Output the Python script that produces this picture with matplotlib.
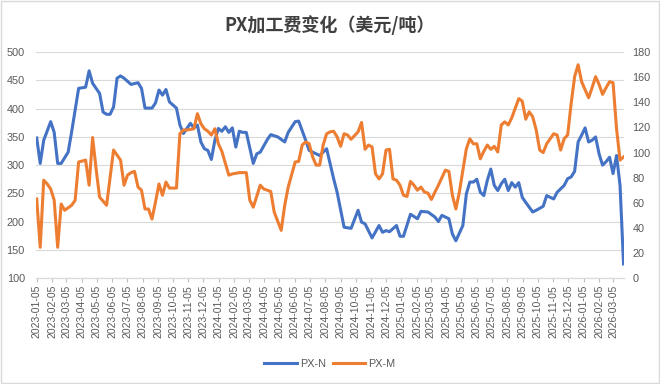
import pandas as pd
import matplotlib
matplotlib.use("Agg")
from matplotlib import pyplot as plt
import matplotlib.dates as mdates
from matplotlib.patches import Rectangle

# weeks counted from 2023-01-05
start = "2023-01-05"

n_week = [0, 1, 2, 4, 5, 6, 7, 9, 10, 12, 14, 15, 16, 18, 19, 20, 21, 22, 23, 24,
          25, 27, 29, 30, 31, 33, 34, 35, 36, 37, 38, 40, 41, 42, 43, 44, 45, 46, 47, 48,
          49, 50, 51, 52, 53, 54, 55, 56, 57, 58, 59, 60, 62, 63, 64, 66, 67, 69, 71, 72,
          74, 75, 77, 78, 80, 81, 83, 85, 86, 88, 90, 92, 93, 94, 96, 98, 99, 100, 101, 103,
          104, 105, 107, 109, 110, 112, 114, 115, 116, 118, 119, 120, 122, 123, 124, 125, 126, 127, 128, 129,
          130, 131, 132, 133, 134, 135, 136, 137, 138, 139, 140, 142, 143, 145, 146, 148, 149, 151, 152, 153,
          154, 155, 156, 157, 158, 159, 160, 161, 162, 163, 164, 165, 166, 167, 168]
px_n = [348, 303, 344, 377, 358, 303, 303, 323, 359, 436, 438, 467, 445, 427, 394, 390, 390, 403, 454, 458,
        454, 443, 446, 436, 401, 401, 410, 433, 424, 434, 412, 401, 371, 356, 365, 374, 366, 371, 341, 329,
        326, 310, 344, 365, 360, 368, 358, 366, 332, 360, 358, 358, 303, 320, 323, 345, 354, 350, 341, 358,
        377, 378, 344, 326, 320, 317, 329, 276, 252, 190, 188, 220, 199, 196, 171, 193, 181, 184, 182, 193,
        174, 174, 213, 205, 218, 217, 208, 200, 211, 205, 178, 166, 193, 249, 270, 270, 275, 252, 246, 273,
        293, 264, 255, 267, 275, 255, 269, 261, 269, 243, 234, 217, 220, 227, 246, 240, 252, 264, 276, 279,
        289, 341, 353, 366, 341, 344, 350, 320, 300, 306, 314, 285, 317, 264, 125]

m_week = [0, 1, 2, 3, 4, 5, 6, 7, 8, 10, 11, 12, 14, 15, 16, 17, 18, 20, 22, 24,
          25, 26, 27, 28, 29, 30, 31, 32, 33, 34, 35, 36, 37, 38, 40, 41, 42, 43, 45, 46,
          47, 48, 49, 50, 51, 52, 53, 55, 56, 58, 60, 61, 62, 64, 65, 67, 68, 70, 71, 72,
          74, 75, 76, 77, 78, 79, 80, 81, 82, 83, 84, 85, 86, 87, 88, 89, 90, 92, 93, 94,
          95, 96, 97, 98, 99, 100, 101, 102, 103, 104, 105, 106, 107, 108, 109, 110, 111, 112, 113, 114,
          115, 117, 118, 119, 120, 121, 122, 123, 124, 125, 126, 127, 128, 129, 130, 131, 132, 133, 134, 135,
          136, 138, 139, 140, 141, 142, 143, 144, 145, 146, 148, 149, 150, 151, 152, 153, 154, 155, 156, 158,
          159, 160, 161, 162, 163, 164, 165, 166, 167, 168]
px_m = [63, 24.5, 78, 75, 71, 62, 24.5, 59, 54, 58, 62, 92.5, 94, 74, 112, 87, 64.5, 58, 102, 94,
        74, 82, 84, 85, 72.5, 70, 55, 55, 47, 60.5, 75, 66, 76.5, 71.7, 71.7, 115, 118, 118, 119, 131,
        123, 119, 117, 114, 119, 107, 101, 82, 83, 84, 84, 62, 56.5, 74, 71, 69, 52.5, 38, 58, 72.5,
        92.5, 93, 106, 108.5, 107, 96.5, 90, 90, 106, 115, 116.5, 117, 112.5, 105, 115, 114, 110.6, 116.5, 124, 102.6,
        106, 104.5, 83, 79, 83, 102, 102.6, 79, 78, 74, 66, 65, 77, 74, 70, 72.5, 68.5, 67.7, 62.6, 68.5,
        74, 86, 85, 66, 55, 68.5, 86, 103, 111, 107, 107, 95, 101, 106, 102.6, 105, 100.5, 122, 124.5, 122,
        127.7, 143, 141, 126.6, 132.5, 128.5, 118, 102, 100, 107, 115, 114, 102, 111, 114, 139, 160.5, 170, 156.5, 143.7,
        151.7, 160.5, 154.4, 146.4, 151.7, 156.5, 155.7, 119, 94, 96.5]

t0 = pd.Timestamp(start)
n_dates = [t0 + pd.Timedelta(weeks=w) for w in n_week]
m_dates = [t0 + pd.Timedelta(weeks=w) for w in m_week]

font = "Liberation Sans"
grey = "#595959"

fig = plt.figure(figsize=(6.6, 3.84), dpi=100)
ax = fig.add_axes([0.0545, 0.276, 0.891, 0.588])
ax2 = ax.twinx()

ax.plot(n_dates, px_n, color="#4472C4", lw=2.2, label="PX-N", zorder=3)
ax2.plot(m_dates, px_m, color="#ED7D31", lw=2.2, label="PX-M", zorder=3)

ax.set_xlim(t0 - pd.Timedelta(days=1.5), t0 + pd.Timedelta(days=1177))
ax.set_ylim(100, 500)
ax2.set_ylim(0, 180)
ax.set_yticks(range(100, 501, 50))
ax2.set_yticks(range(0, 181, 20))

ax.grid(axis="y", color="#D9D9D9", lw=0.8)
ax.set_axisbelow(True)
for a in (ax, ax2):
    for s in ("top", "left", "right"):
        a.spines[s].set_visible(False)
    a.spines["bottom"].set_color("#D9D9D9")
    a.tick_params(axis="y", length=0, labelsize=7.8, labelcolor=grey)
ax.tick_params(axis="y", pad=8)
ax2.tick_params(axis="y", pad=6)

ax.xaxis.set_major_locator(mdates.MonthLocator(bymonthday=5))
ax.xaxis.set_major_formatter(mdates.DateFormatter("%Y-%m-%d"))
ax.tick_params(axis="x", length=3, color="#BFBFBF", labelsize=7.5, labelcolor=grey,
               rotation=90, pad=2)
for lab in ax.get_xticklabels() + ax.get_yticklabels() + ax2.get_yticklabels():
    lab.set_fontfamily(font)

fig.text(0.5, 0.935, "PX加工费变化（美元/吨）", ha="center", va="center",
         fontsize=13, fontweight="bold", color="#404040",
         family=["Noto Sans CJK SC", "DejaVu Sans"])

h1, l1 = ax.get_legend_handles_labels()
h2, l2 = ax2.get_legend_handles_labels()
fig.legend(h1 + h2, l1 + l2, loc="center", bbox_to_anchor=(0.5, 0.052), ncol=2,
           frameon=False, handlelength=3.0, columnspacing=0.6, handletextpad=0.3,
           prop={"family": font, "size": 7.8}, labelcolor=grey)

fig.patches.append(Rectangle((0.002, 0.003), 0.996, 0.994, transform=fig.transFigure,
                             fill=False, edgecolor="#D9D9D9", lw=1))

fig.savefig("out.png", dpi=100)
